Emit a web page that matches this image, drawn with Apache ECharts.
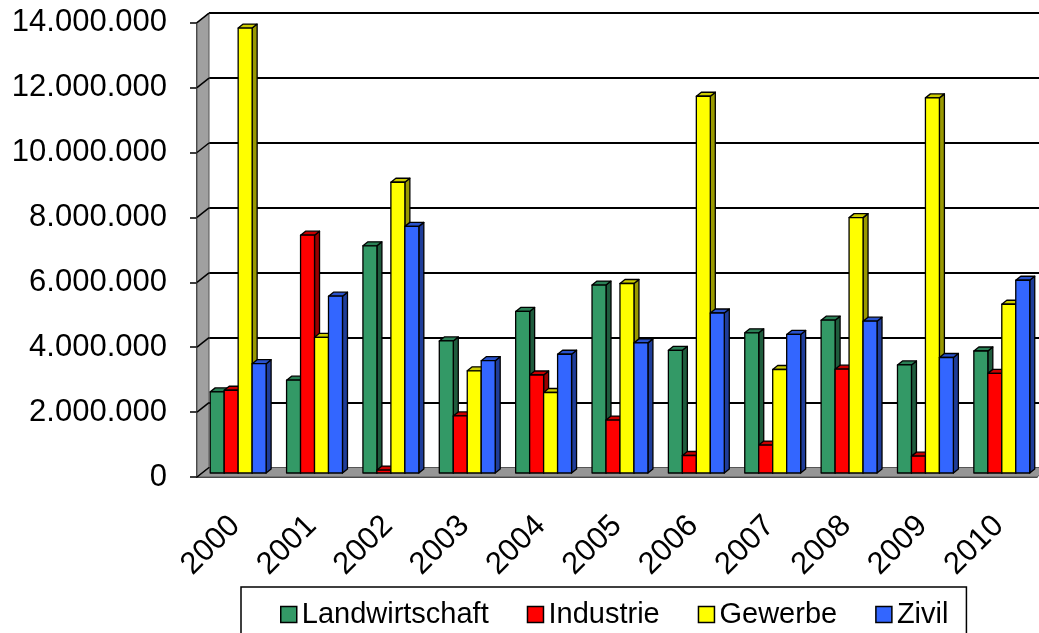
<!DOCTYPE html>
<html>
<head>
<meta charset="utf-8">
<script src="https://cdn.jsdelivr.net/npm/echarts@6/dist/echarts.min.js"></script>
<style>
  html, body { margin: 0; padding: 0; background: #fff; }
  #chart { width: 1039px; height: 633px; }
</style>
</head>
<body>
<div id="chart"></div>
<script>
// Daten
var years = ['2000', '2001', '2002', '2003', '2004', '2005', '2006', '2007', '2008', '2009', '2010'];
var landwirtschaft = [2500000, 2860000, 7000000, 4070000, 4980000, 5790000, 3780000, 4320000, 4710000, 3330000, 3760000];
var industrie = [2550000, 7330000, 90000, 1760000, 3020000, 1630000, 540000, 860000, 3200000, 520000, 3070000];
var gewerbe = [13710000, 4180000, 8960000, 3150000, 2480000, 5840000, 11610000, 3190000, 7870000, 11560000, 5200000];
var zivil = [3370000, 5450000, 7600000, 3460000, 3660000, 4010000, 4930000, 4270000, 4680000, 3560000, 5940000];
var yTicks = [0, 2000000, 4000000, 6000000, 8000000, 10000000, 12000000, 14000000];

var FONT = "'Liberation Sans', Arial, sans-serif";

// Farben: Vorderseite, Seite, Deckel
var styles = [
    { name: 'Landwirtschaft', front: '#339966', side: '#1f5c3d', top: '#2a8055' },
    { name: 'Industrie', front: '#ff0000', side: '#990000', top: '#cc0000' },
    { name: 'Gewerbe', front: '#ffff00', side: '#999900', top: '#cccc00' },
    { name: 'Zivil', front: '#3366ff', side: '#1f3d99', top: '#2952cc' }
];
var seriesData = [landwirtschaft, industrie, gewerbe, zivil];

// 3D-Tiefe
var DX = 12, DY = 9.5;      // Wand / Boden
var BX = 5, BY = 4;         // Balkentiefe
var FRONT_Y = 4;            // Balken stehen etwas hinter der Vorderkante

function fmt(v) {
    return String(v).replace(/\B(?=(\d{3})+(?!\d))/g, '.');
}

function barRenderer(idx, st) {
    return function (params, api) {
        var cat = api.value(0);
        var top = api.coord([cat, api.value(1)]);
        var base = api.coord([cat, 0]);
        var band = api.size([1, 0])[0];
        var w = band * 0.183;
        var x = top[0] - band * 0.327 + idx * w;
        var yT = top[1] - FRONT_Y;
        var yB = base[1] - FRONT_Y;
        var line = { stroke: '#000', lineWidth: 1.3, lineJoin: 'round' };
        return {
            type: 'group',
            children: [
                {
                    type: 'polygon',
                    shape: { points: [[x + w, yT], [x + w + BX, yT - BY], [x + w + BX, yB - BY], [x + w, yB]] },
                    style: Object.assign({ fill: st.side }, line)
                },
                {
                    type: 'polygon',
                    shape: { points: [[x, yT], [x + BX, yT - BY], [x + w + BX, yT - BY], [x + w, yT]] },
                    style: Object.assign({ fill: st.top }, line)
                },
                {
                    type: 'rect',
                    shape: { x: x, y: yT, width: w, height: yB - yT },
                    style: Object.assign({ fill: st.front }, line)
                }
            ]
        };
    };
}

function wallRenderer(params, api) {
    var cs = params.coordSys;
    var x0 = cs.x, y0 = cs.y, x1 = cs.x + cs.width, y1 = cs.y + cs.height;
    var children = [
        {
            type: 'polygon',
            shape: { points: [[x0, y0], [x0 + DX, y0 - DY], [x0 + DX, y1 - DY], [x0, y1]] },
            style: { fill: '#a0a0a0', stroke: '#555', lineWidth: 1 }
        },
        {
            type: 'polygon',
            shape: { points: [[x0, y1], [x0 + DX, y1 - DY], [x1 + DX, y1 - DY], [x1, y1]] },
            style: { fill: '#969696', stroke: '#555', lineWidth: 1 }
        }
    ];
    yTicks.forEach(function (v) {
        var y = api.coord([0, v])[1];
        children.push({
            type: 'line',
            shape: { x1: x0, y1: y, x2: x0 + DX, y2: y - DY },
            style: { stroke: '#000', lineWidth: 1.5 }
        });
    });
    return { type: 'group', children: children };
}

var chart = echarts.init(document.getElementById('chart'));

var series = [{
    name: 'wall',
    type: 'custom',
    xAxisIndex: 0,
    yAxisIndex: 0,
    z: 1,
    silent: true,
    renderItem: wallRenderer,
    data: [[0, 0]],
    itemStyle: { color: '#999' }
}];
styles.forEach(function (st, i) {
    series.push({
        name: st.name,
        type: 'custom',
        xAxisIndex: 0,
        yAxisIndex: 0,
        z: 3 + i,
        renderItem: barRenderer(i, st),
        itemStyle: { color: st.front },
        data: seriesData[i].map(function (v, k) { return [k, v]; })
    });
});

var option = {
    backgroundColor: '#fff',
    animation: false,
    textStyle: { fontFamily: FONT },
    legend: {
        data: styles.map(function (s) { return s.name; }),
        left: 241,
        top: 587,
        icon: 'rect',
        itemWidth: 16,
        itemHeight: 16,
        itemGap: 38,
        padding: [13, 18, 30, 39],
        borderColor: '#000',
        borderWidth: 1.5,
        itemStyle: { borderColor: '#000', borderWidth: 1.5 },
        textStyle: { fontFamily: FONT, fontSize: 29, color: '#000' }
    },
    grid: [
        { left: 197, top: 22.7, width: 840, height: 454.3 },
        { left: 197 + DX, top: 22.7 - DY, width: 840, height: 454.3 }
    ],
    xAxis: [
        {
            type: 'category',
            gridIndex: 0,
            data: years,
            axisLine: { lineStyle: { color: '#000', width: 1.5 } },
            axisTick: { length: 9, lineStyle: { color: '#000', width: 1.5 } },
            axisLabel: { rotate: 45, margin: 44, fontSize: 31, color: '#000', fontFamily: FONT }
        },
        {
            type: 'value',
            gridIndex: 1,
            show: false
        }
    ],
    yAxis: [
        {
            type: 'value',
            gridIndex: 0,
            min: 0,
            max: 14000000,
            interval: 2000000,
            axisLine: { show: true, lineStyle: { color: '#000', width: 1.5 } },
            axisTick: { show: true, length: 7, lineStyle: { color: '#000', width: 1.5 } },
            splitLine: { show: false },
            axisLabel: { margin: 30, fontSize: 31, color: '#000', fontFamily: FONT, formatter: fmt }
        },
        {
            type: 'value',
            gridIndex: 1,
            min: 0,
            max: 14000000,
            interval: 2000000,
            axisLine: { show: false },
            axisTick: { show: false },
            axisLabel: { show: false },
            splitLine: { show: true, lineStyle: { color: '#000', width: 2 } }
        }
    ],
    series: series
};

chart.setOption(option);
</script>
</body>
</html>
